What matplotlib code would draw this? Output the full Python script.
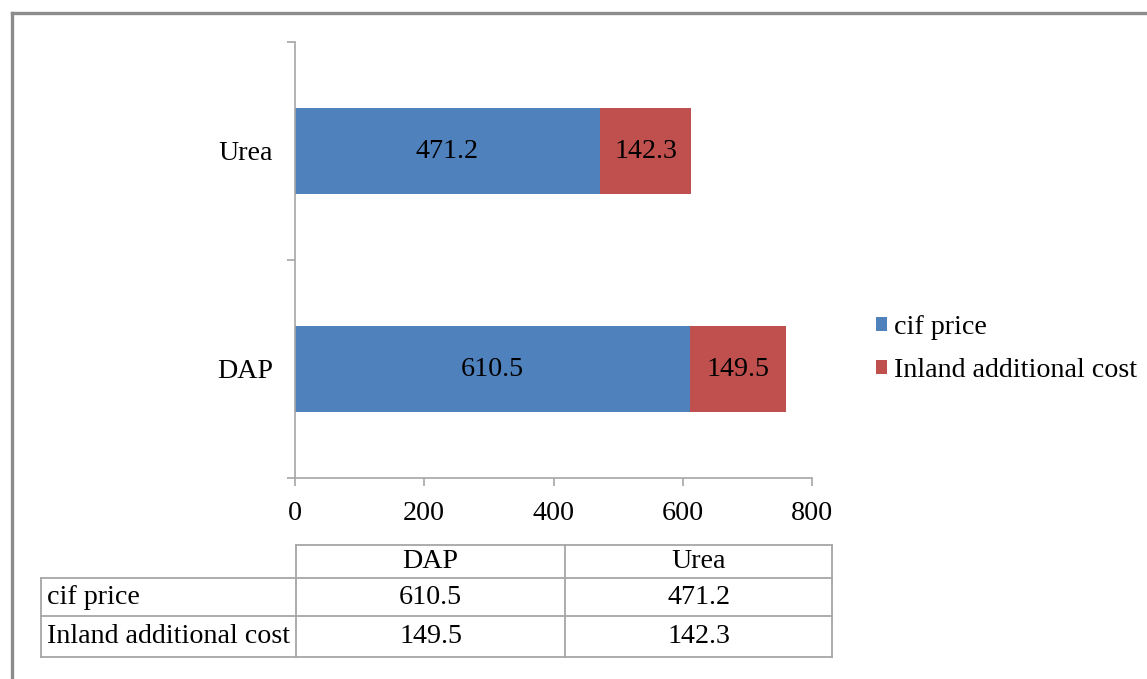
import matplotlib
matplotlib.use("Agg")
import matplotlib.pyplot as plt
from matplotlib.lines import Line2D
from matplotlib.patches import Patch

# Fertilizer price components (USD/tonne)
categories = ["DAP", "Urea"]
series_names = ["cif price", "Inland additional cost"]
cif_price = [610.5, 471.2]
inland_cost = [149.5, 142.3]
x_ticks = [0, 200, 400, 600, 800]

BLUE = "#4F81BD"
RED = "#C0504D"
GRID = "#A6A6A6"
FS = 20.2

W, H = 1147, 679
plt.rcParams["font.family"] = ["Liberation Serif", "DejaVu Serif"]

fig = plt.figure(figsize=(W / 100, H / 100), dpi=100)


def fx(px):
    return px / W


def fy(py):
    return 1 - py / H


# Outer frame (left and top edges visible)
fig.add_artist(Line2D([fx(12), fx(12)], [fy(13), 0], color="#8C8C8C", lw=2.4))
fig.add_artist(Line2D([fx(12), 1], [fy(13), fy(13)], color="#8C8C8C", lw=2.4))

# Bar chart
ax = fig.add_axes([fx(295), fy(478), fx(812) - fx(295), fy(42) - fy(478)])
ypos = list(range(len(categories)))
bh = 0.395
ax.barh(ypos, cif_price, height=bh, color=BLUE, label=series_names[0])
ax.barh(ypos, inland_cost, left=cif_price, height=bh, color=RED, label=series_names[1])

for y, c, i in zip(ypos, cif_price, inland_cost):
    ax.text(c / 2, y, f"{c}", ha="center", va="center", fontsize=FS, color="black")
    ax.text(c + i / 2, y, f"{i}", ha="center", va="center", fontsize=FS, color="black")

ax.set_xlim(x_ticks[0], x_ticks[-1])
ax.set_ylim(-0.5, len(categories) - 0.5)
ax.set_xticks(x_ticks)
ax.set_xticklabels([str(t) for t in x_ticks], fontsize=FS)
ax.set_yticks(ypos)
ax.set_yticklabels(categories, fontsize=FS)
ax.set_yticks([y - 0.5 for y in ypos] + [len(categories) - 0.5], minor=True)
ax.tick_params(axis="y", which="major", length=0, pad=16)
ax.tick_params(axis="y", which="minor", length=6, color=GRID, width=1.2, direction="out")
ax.tick_params(axis="x", length=6, color=GRID, width=1.2, direction="out", pad=10.5)
for side in ("top", "right"):
    ax.spines[side].set_visible(False)
for side in ("left", "bottom"):
    ax.spines[side].set_color(GRID)
    ax.spines[side].set_linewidth(1.2)

# Legend
handles = [Patch(facecolor=BLUE, label=series_names[0]),
           Patch(facecolor=RED, label=series_names[1])]
fig.legend(handles=handles, loc="center left", bbox_to_anchor=(fx(876), fy(349)),
           bbox_transform=fig.transFigure, frameon=False, fontsize=FS,
           handlelength=0.4, handleheight=0.4, handletextpad=0.25,
           labelspacing=0.62, borderpad=0, borderaxespad=0)

# Data table below the chart
col_x = [41, 296, 565, 832]
row_y = [545, 578, 616, 657]
tl = dict(color=GRID, lw=1.3)
fig.add_artist(Line2D([fx(col_x[1]), fx(col_x[3])], [fy(row_y[0])] * 2, **tl))
for yy in row_y[1:]:
    fig.add_artist(Line2D([fx(col_x[0]), fx(col_x[3])], [fy(yy)] * 2, **tl))
fig.add_artist(Line2D([fx(col_x[0])] * 2, [fy(row_y[1]), fy(row_y[3])], **tl))
for xx in col_x[1:]:
    fig.add_artist(Line2D([fx(xx)] * 2, [fy(row_y[0]), fy(row_y[3])], **tl))

for j, cat in enumerate(categories):
    cx = (col_x[j + 1] + col_x[j + 2]) / 2
    fig.text(fx(cx), fy((row_y[0] + row_y[1]) / 2), cat, ha="center", va="center", fontsize=FS)

table_rows = [cif_price, inland_cost]
for r, (name, vals) in enumerate(zip(series_names, table_rows)):
    cy = (row_y[r + 1] + row_y[r + 2]) / 2
    fig.text(fx(col_x[0] + 6), fy(cy), name, ha="left", va="center", fontsize=FS)
    for j, v in enumerate(vals):
        cx = (col_x[j + 1] + col_x[j + 2]) / 2
        fig.text(fx(cx), fy(cy), f"{v}", ha="center", va="center", fontsize=FS)

fig.savefig("out.png", dpi=100, facecolor="white")
